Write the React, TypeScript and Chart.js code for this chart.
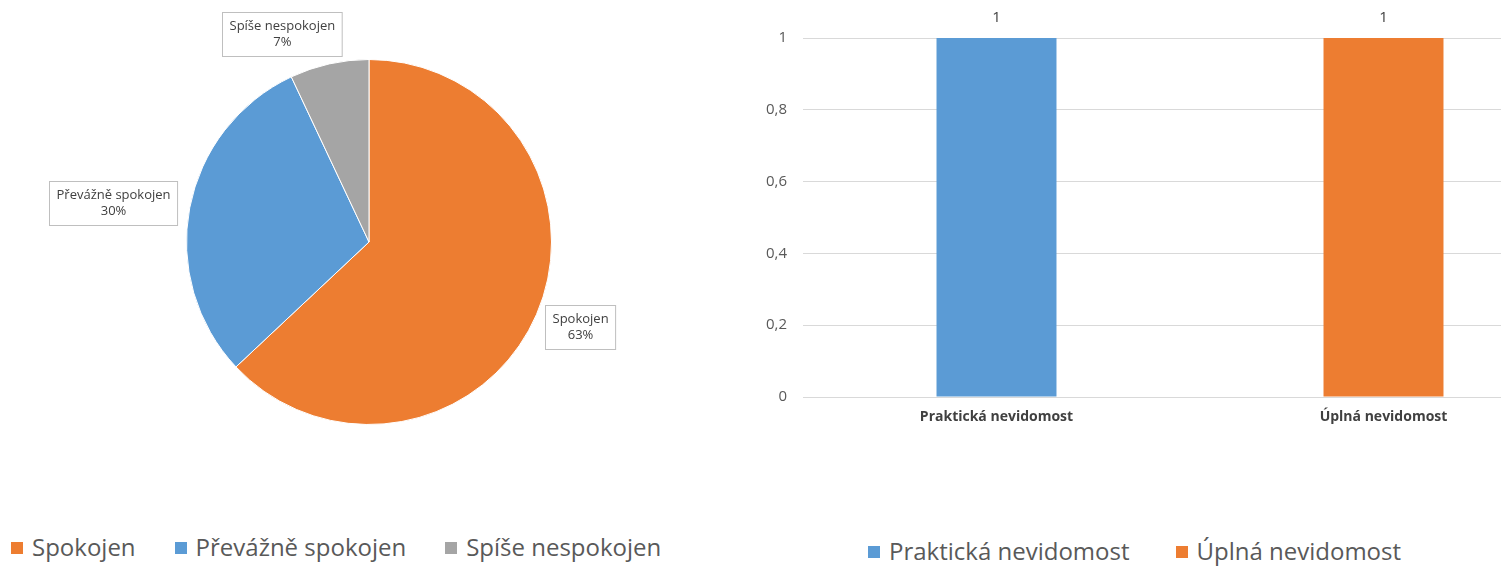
import React, { useEffect, useRef } from "react";
import { Chart, registerables } from "chart.js";

Chart.register(...registerables);

const FONT = "'Open Sans', 'Noto Sans', sans-serif";

const pieLabels = ["Spokojen", "Převážně spokojen", "Spíše nespokojen"];
const pieValues = [63, 30, 7];
const pieColors = ["#ED7D31", "#5B9BD5", "#A5A5A5"];

const barLabels = ["Praktická nevidomost", "Úplná nevidomost"];
const barValues = [1, 1];
const barColors = ["#5B9BD5", "#ED7D31"];

const yMin = 0;
const yMax = 1;
const yStep = 0.2;

const pieLabelPlugin = {
  id: "pieLabelBoxes",
  afterDatasetsDraw(chart: any, _args: any, opts: any) {
    const ctx = chart.ctx;
    const meta = chart.getDatasetMeta(0);
    const data = chart.data.datasets[0].data as number[];
    const total = data.reduce((a, b) => a + b, 0);
    const nudges = opts.nudges || [];
    ctx.save();
    ctx.font = `13px ${FONT}`;
    meta.data.forEach((arc: any, i: number) => {
      const p = arc.getProps(["x", "y", "startAngle", "endAngle", "outerRadius"], true);
      const mid = (p.startAngle + p.endAngle) / 2;
      const ux = Math.cos(mid);
      const uy = Math.sin(mid);
      const lines = [String(chart.data.labels[i]), Math.round((data[i] / total) * 100) + "%"];
      const tw = Math.max(...lines.map((l) => ctx.measureText(l).width));
      const lineH = 16;
      const padY = 6;
      const W = tw + 14;
      const H = lines.length * lineH + padY * 2;
      const gap = 8;
      const px = p.x + (p.outerRadius + gap) * ux;
      const py = p.y + (p.outerRadius + gap) * uy;
      const nd = nudges[i] || [0, 0];
      const cx = px + (ux * W) / 2 + nd[0];
      const cy = py + (uy * H) / 2 + nd[1];
      const bx = Math.round(cx - W / 2) + 0.5;
      const by = Math.round(cy - H / 2) + 0.5;
      ctx.fillStyle = "#ffffff";
      ctx.fillRect(bx, by, W, H);
      ctx.strokeStyle = "#bfbfbf";
      ctx.lineWidth = 1;
      ctx.strokeRect(bx, by, W, H);
      ctx.fillStyle = "#404040";
      ctx.textAlign = "center";
      ctx.textBaseline = "middle";
      lines.forEach((l, k) => {
        ctx.fillText(l, bx + W / 2, by + padY + lineH * k + lineH / 2);
      });
    });
    ctx.restore();
  },
};

const barValuePlugin = {
  id: "barValues",
  afterDatasetsDraw(chart: any) {
    const ctx = chart.ctx;
    const meta = chart.getDatasetMeta(0);
    const data = chart.data.datasets[0].data as number[];
    ctx.save();
    ctx.font = `15px ${FONT}`;
    ctx.fillStyle = "#404040";
    ctx.textAlign = "center";
    ctx.textBaseline = "middle";
    meta.data.forEach((bar: any, i: number) => {
      ctx.fillText(String(data[i]).replace(".", ","), bar.x, bar.y - 20);
    });
    ctx.restore();
  },
};

function PieChart() {
  const ref = useRef<HTMLCanvasElement>(null);
  useEffect(() => {
    if (!ref.current) return;
    const chart = new Chart(ref.current, {
      type: "pie",
      data: {
        labels: pieLabels,
        datasets: [
          {
            data: pieValues,
            backgroundColor: pieColors,
            borderColor: "#ffffff",
            borderWidth: 1,
          },
        ],
      },
      options: {
        responsive: false,
        animation: false,
        devicePixelRatio: 1,
        layout: { padding: { left: 186, right: 186, top: 59, bottom: 59 } },
        plugins: {
          legend: { display: false },
          tooltip: { enabled: false },
          pieLabelBoxes: { nudges: [[4, 1], [-6, 1], [-33, -1]] },
        } as any,
      },
      plugins: [pieLabelPlugin],
    });
    return () => chart.destroy();
  }, []);
  return <canvas ref={ref} width={738} height={484} style={{ position: "absolute", left: 0, top: 0 }} />;
}

function BarChart() {
  const ref = useRef<HTMLCanvasElement>(null);
  useEffect(() => {
    if (!ref.current) return;
    const chart = new Chart(ref.current, {
      type: "bar",
      data: {
        labels: barLabels,
        datasets: [
          {
            data: barValues,
            backgroundColor: barColors,
            borderWidth: 0,
            categoryPercentage: 1,
            barPercentage: 0.31,
          },
        ],
      },
      options: {
        responsive: false,
        animation: false,
        devicePixelRatio: 1,
        layout: { padding: { left: 0, right: 23, top: 38, bottom: 0 } },
        plugins: { legend: { display: false }, tooltip: { enabled: false } },
        scales: {
          x: {
            grid: { display: false, drawTicks: false },
            border: { display: false },
            ticks: {
              color: "#404040",
              padding: 12,
              font: { family: FONT, size: 14, weight: "bold" },
            },
            afterFit: (s: any) => {
              s.height = 43;
            },
          },
          y: {
            min: yMin,
            max: yMax,
            grid: { color: "#d9d9d9", drawTicks: false },
            border: { display: false },
            ticks: {
              stepSize: yStep,
              color: "#595959",
              padding: 16,
              font: { family: FONT, size: 15 },
              callback: (v: any) => String(Math.round(Number(v) * 10) / 10).replace(".", ","),
            },
            afterFit: (s: any) => {
              s.width = 103;
            },
          },
        } as any,
      },
      plugins: [barValuePlugin],
    });
    return () => chart.destroy();
  }, []);
  return <canvas ref={ref} width={900} height={440} style={{ position: "absolute", left: 700, top: 0 }} />;
}

function Legend({ labels, colors, left, top, gap }: { labels: string[]; colors: string[]; left: number; top: number; gap: number }) {
  return (
    <div
      style={{
        position: "absolute",
        left,
        top,
        display: "flex",
        alignItems: "center",
        fontFamily: FONT,
        fontSize: 24,
        lineHeight: "24px",
        color: "#595959",
        whiteSpace: "nowrap",
      }}
    >
      {labels.map((l, i) => (
        <div key={l} style={{ display: "flex", alignItems: "center", marginRight: i < labels.length - 1 ? gap : 0 }}>
          <span style={{ display: "inline-block", width: 12, height: 12, background: colors[i], marginRight: 9, marginTop: 1 }} />
          <span>{l}</span>
        </div>
      ))}
    </div>
  );
}

export default function App() {
  return (
    <div
      style={{
        position: "fixed",
        left: 0,
        top: 0,
        width: 1501,
        height: 567,
        overflow: "hidden",
        background: "#ffffff",
      }}
    >
      <PieChart />
      <BarChart />
      <Legend labels={pieLabels} colors={pieColors} left={11} top={535} gap={39} />
      <Legend labels={barLabels} colors={barColors} left={868} top={539} gap={46} />
    </div>
  );
}
